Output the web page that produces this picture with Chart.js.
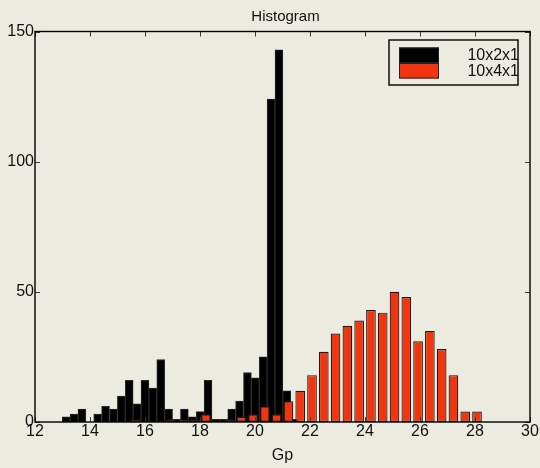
<!DOCTYPE html>
<html>
<head>
<meta charset="utf-8">
<title>Histogram</title>
<script src="https://cdn.jsdelivr.net/npm/chart.js@4.4.0/dist/chart.umd.min.js"></script>
<style>
  html, body { margin: 0; padding: 0; background: #ECEBDF; }
  #wrap { width: 540px; height: 468px; }
</style>
</head>
<body>
<div id="wrap"><canvas id="hist"></canvas></div>
<script>
// bin centres (Gp) and counts, 30 bins per run
var gp_2x = [13.133, 13.420, 13.706, 13.993, 14.279, 14.566, 14.853, 15.139, 15.426, 15.712,
             15.999, 16.286, 16.572, 16.859, 17.145, 17.432, 17.719, 18.005, 18.292, 18.578,
             18.865, 19.152, 19.438, 19.725, 20.011, 20.298, 20.585, 20.871, 21.158, 21.444];
var count_2x = [2, 3, 5, 0, 3, 6, 5, 10, 16, 7,
                16, 13, 24, 5, 1, 5, 2, 4, 16, 1,
                1, 5, 8, 19, 17, 25, 124, 143, 12, 1];

var gp_4x = [15.644, 16.073, 16.501, 16.930, 17.358, 17.787, 18.216, 18.644, 19.073, 19.501,
             19.930, 20.359, 20.787, 21.216, 21.644, 22.073, 22.502, 22.930, 23.359, 23.787,
             24.216, 24.645, 25.073, 25.502, 25.930, 26.359, 26.788, 27.216, 27.645, 28.073];
var count_4x = [1, 0, 0, 1, 1, 1, 3, 0, 1, 2,
                3, 6, 3, 8, 12, 18, 27, 34, 37, 39,
                43, 42, 50, 48, 31, 35, 28, 18, 4, 4];

var series_names = ['10x2x1', '10x4x1'];
var x_ticks = [12, 14, 16, 18, 20, 22, 24, 26, 28, 30];
var y_ticks = [0, 50, 100, 150];

var FONT = '"Liberation Sans", Arial, Helvetica, sans-serif';
var TEXT = '#111111';

function toPoints(xs, ys) {
    return xs.map(function (x, i) { return { x: x, y: ys[i] }; });
}

function fixedTicks(list) {
    return function (scale) {
        scale.ticks = list.map(function (v) { return { value: v }; });
    };
}

// matlab style box, inward tick marks and the title over the axes
var framePlugin = {
    id: 'frame',
    afterDatasetsDraw: function (chart) {
        var ctx = chart.ctx, a = chart.chartArea;
        var xs = chart.scales.x, ys = chart.scales.y;
        ctx.save();
        ctx.strokeStyle = '#3a3a3a';
        ctx.lineWidth = 1;
        ctx.beginPath();
        xs.ticks.forEach(function (t) {
            var px = Math.round(xs.getPixelForValue(t.value)) + 0.5;
            ctx.moveTo(px, a.top); ctx.lineTo(px, a.top + 5);
            ctx.moveTo(px, a.bottom); ctx.lineTo(px, a.bottom - 5);
        });
        ys.ticks.forEach(function (t) {
            var py = Math.round(ys.getPixelForValue(t.value)) + 0.5;
            ctx.moveTo(a.left, py); ctx.lineTo(a.left + 5, py);
            ctx.moveTo(a.right, py); ctx.lineTo(a.right - 5, py);
        });
        ctx.stroke();
        ctx.strokeStyle = '#000';
        ctx.lineWidth = 1.4;
        ctx.strokeRect(a.left, a.top, a.right - a.left, a.bottom - a.top);

        ctx.fillStyle = TEXT;
        ctx.font = '15px ' + FONT;
        ctx.textAlign = 'center';
        ctx.textBaseline = 'middle';
        ctx.fillText('Histogram', (a.left + a.right) / 2 + 3, 17);
        ctx.restore();
    }
};

// legend box in the upper right corner
var legendPlugin = {
    id: 'boxLegend',
    afterDraw: function (chart) {
        var ctx = chart.ctx, a = chart.chartArea;
        var right = a.right - 12, top = a.top + 8.5;
        var w = 129, h = 45;
        var left = right - w;
        ctx.save();
        ctx.fillStyle = '#ECEBDF';
        ctx.fillRect(left, top, w, h);
        chart.data.datasets.forEach(function (ds, i) {
            var sy = top + 7.5 + i * 15.5;
            ctx.fillStyle = ds.backgroundColor;
            ctx.fillRect(left + 10, sy, 40, 15.5);
            ctx.strokeStyle = '#222';
            ctx.lineWidth = 1;
            ctx.strokeRect(left + 10.5, sy + 0.5, 39, 14.5);
            ctx.fillStyle = TEXT;
            ctx.font = '16px ' + FONT;
            ctx.textAlign = 'right';
            ctx.textBaseline = 'middle';
            ctx.fillText(ds.label, right + 1, sy + 8.5);
        });
        ctx.strokeStyle = '#000';
        ctx.lineWidth = 1.4;
        ctx.strokeRect(left, top, w, h);
        ctx.restore();
    }
};

new Chart(document.getElementById('hist'), {
    type: 'bar',
    data: {
        datasets: [{
            label: series_names[0],
            data: toPoints(gp_2x, count_2x),
            xAxisID: 'x',
            backgroundColor: '#000000',
            borderColor: '#2b2b2b',
            borderWidth: 1,
            borderSkipped: false,
            grouped: false,
            categoryPercentage: 1,
            barPercentage: 1,
            order: 1
        }, {
            label: series_names[1],
            data: toPoints(gp_4x, count_4x),
            xAxisID: 'x2',
            backgroundColor: '#F0350F',
            borderColor: '#1a1a1a',
            borderWidth: 1.2,
            borderSkipped: false,
            grouped: false,
            categoryPercentage: 1,
            barPercentage: 0.82,
            order: 0
        }]
    },
    options: {
        responsive: true,
        maintainAspectRatio: false,
        animation: false,
        layout: { padding: { left: 0, right: 10, top: 31.5, bottom: 0 } },
        plugins: {
            legend: { display: false },
            title: { display: false },
            tooltip: { enabled: false }
        },
        scales: {
            x: {
                type: 'linear',
                min: 12,
                max: 30,
                offset: false,
                afterBuildTicks: fixedTicks(x_ticks),
                afterFit: function (scale) { scale.height = 46; },
                grid: { display: false, drawTicks: false, offset: false },
                border: { display: false },
                ticks: { padding: 0, color: TEXT, font: { family: FONT, size: 16 } },
                title: {
                    display: true,
                    text: 'Gp',
                    color: TEXT,
                    font: { family: FONT, size: 16 },
                    padding: { top: 0, bottom: 2.4 }
                }
            },
            x2: {
                type: 'linear',
                min: 12,
                max: 30,
                offset: false,
                display: false,
                afterBuildTicks: fixedTicks(x_ticks)
            },
            y: {
                type: 'linear',
                min: 0,
                max: 150,
                afterBuildTicks: fixedTicks(y_ticks),
                afterFit: function (scale) { scale.width = 35; },
                grid: { display: false, drawTicks: false },
                border: { display: false },
                ticks: { padding: 1, color: TEXT, font: { family: FONT, size: 16 } }
            }
        }
    },
    plugins: [framePlugin, legendPlugin]
});
</script>
</body>
</html>
